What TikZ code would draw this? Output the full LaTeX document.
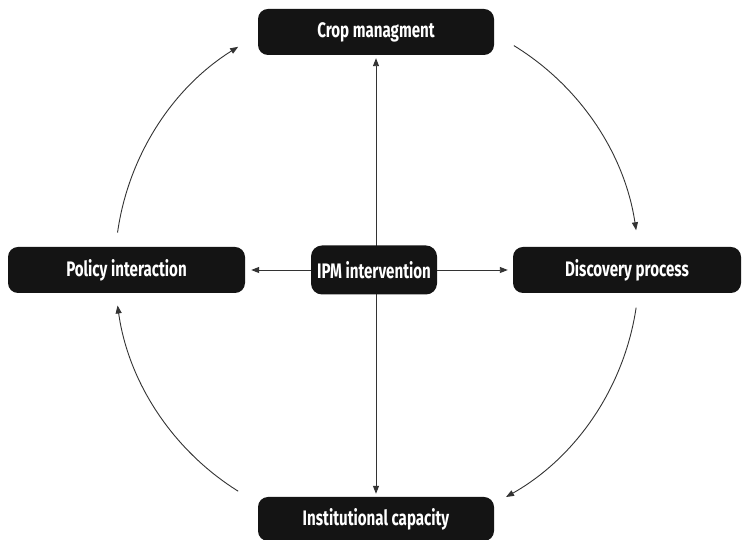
\documentclass[tikz,border=0pt]{standalone}
\usepackage{fontspec}
\newfontfamily\boxfont{Fira Sans}[BoldFont=Fira Sans Bold, FakeStretch=0.72]
\usetikzlibrary{arrows.meta}
\begin{document}
\begin{tikzpicture}[x=1pt,y=1pt,
  boxnode/.style={draw=none, fill=black!92, rounded corners=10pt, text=white,
    font=\boxfont\bfseries\fontsize{21}{24}\selectfont, minimum height=46pt, inner sep=0pt},
  conn/.style={draw=black!80, line width=0.9pt, -{Triangle[length=8pt,width=6pt]}},
]
\useasboundingbox (0,0) rectangle (742,540);
\fill[white] (0,0) rectangle (742,540);
\coordinate (c) at (377,271);
\node[boxnode, minimum width=236pt] (crop) at (376,508) {Crop managment};
\node[boxnode, minimum width=237pt] (policy) at (126.5,270) {Policy interaction};
\node[boxnode, minimum width=228pt] (disc) at (627,270) {Discovery process};
\node[boxnode, minimum width=236pt, minimum height=44pt] (inst) at (376,21) {Institutional capacity};
% central connectors (behind IPM node)
\draw[conn, shorten >=3pt] (inst.north -| crop.south) ++(0,230) coordinate (mid) -- (crop.south);
\draw[conn, shorten >=3pt] (mid) -- (inst.north);
\node[boxnode, minimum width=126pt, minimum height=49pt, rounded corners=11pt] (ipm) at (374,270) {IPM intervention};
\draw[conn, shorten >=6pt] (ipm.west) -- (policy.east);
\draw[conn, shorten >=5pt] (ipm.east) -- (disc.west);
% circular arcs
\draw[conn] ([shift={(172:262)}]c) arc[start angle=172, end angle=122, radius=262];
\draw[conn] ([shift={(58.5:262)}]c) arc[start angle=58.5, end angle=8.5, radius=262];
\draw[conn] ([shift={(-8.5:262)}]c) arc[start angle=-8.5, end angle=-60.5, radius=262];
\draw[conn] ([shift={(-122:262)}]c) arc[start angle=-122, end angle=-172, radius=262];
\end{tikzpicture}
\end{document}
